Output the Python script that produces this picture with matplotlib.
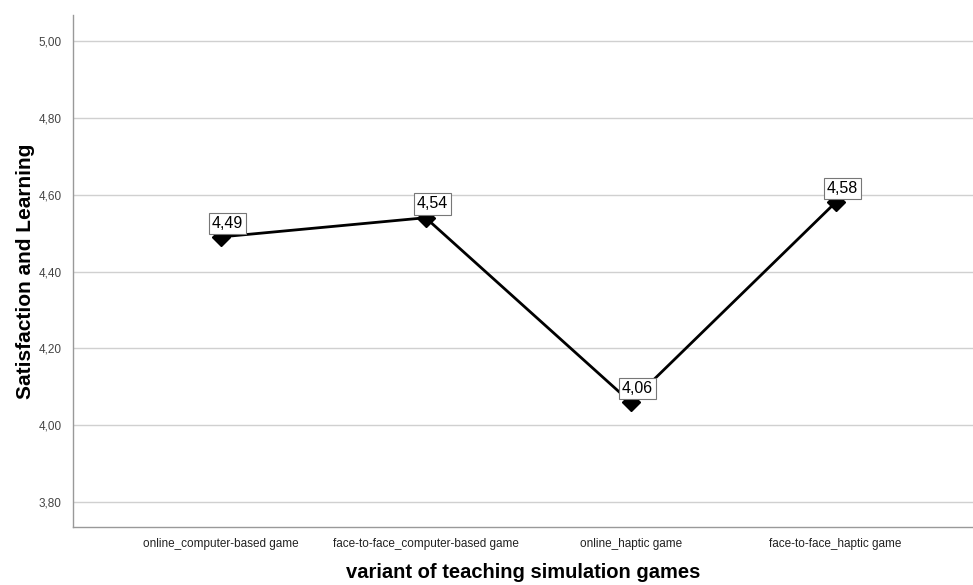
"""Line chart of mean satisfaction and learning by teaching game variant."""

import matplotlib

matplotlib.use("Agg")

import matplotlib.pyplot as plt

plt.rcParams["font.family"] = ["Liberation Sans", "DejaVu Sans"]

categories = [
    "online_computer-based game",
    "face-to-face_computer-based game",
    "online_haptic game",
    "face-to-face_haptic game",
]
mean_scores = [4.49, 4.54, 4.06, 4.58]
y_ticks = [3.80, 4.00, 4.20, 4.40, 4.60, 4.80, 5.00]


def _comma(value: float) -> str:
    return f"{value:.2f}".replace(".", ",")


figure = plt.figure(figsize=(9.73, 5.85), dpi=100)
axis = figure.add_axes([0.075, 0.099, 0.925, 0.875])

positions = list(range(len(categories)))
axis.plot(positions, mean_scores, color="black", linewidth=2.0, marker="D",
          markersize=9, markerfacecolor="black", zorder=3)

for pos, value in zip(positions, mean_scores):
    axis.annotate(
        _comma(value), (pos, value), xytext=(5, 4.5), textcoords="offset points",
        ha="center", va="bottom", fontsize=11.5, zorder=5,
        bbox=dict(boxstyle="square,pad=0.2", facecolor="white", edgecolor="#777777", linewidth=0.8),
    )

axis.set_xlim(-0.72, 3.67)
axis.set_ylim(3.735, 5.067)
axis.set_xticks(positions)
axis.set_xticklabels(categories, fontsize=8.5, color="#222222")
axis.set_yticks(y_ticks)
axis.set_yticklabels([_comma(t) for t in y_ticks], fontsize=8.5, color="#444444")
axis.tick_params(length=0, pad=8)
axis.grid(True, axis="y", color="#d0d0d0", linewidth=1.0)
axis.set_axisbelow(True)

for side in ("top", "right"):
    axis.spines[side].set_visible(False)
for side in ("left", "bottom"):
    axis.spines[side].set_color("#999999")
    axis.spines[side].set_linewidth(1.0)

axis.set_xlabel("variant of teaching simulation games", fontsize=14.5, fontweight="bold", labelpad=9)
axis.set_ylabel("Satisfaction and Learning", fontsize=15, fontweight="bold", labelpad=3)

figure.savefig("out.png", dpi=100)
plt.close(figure)
